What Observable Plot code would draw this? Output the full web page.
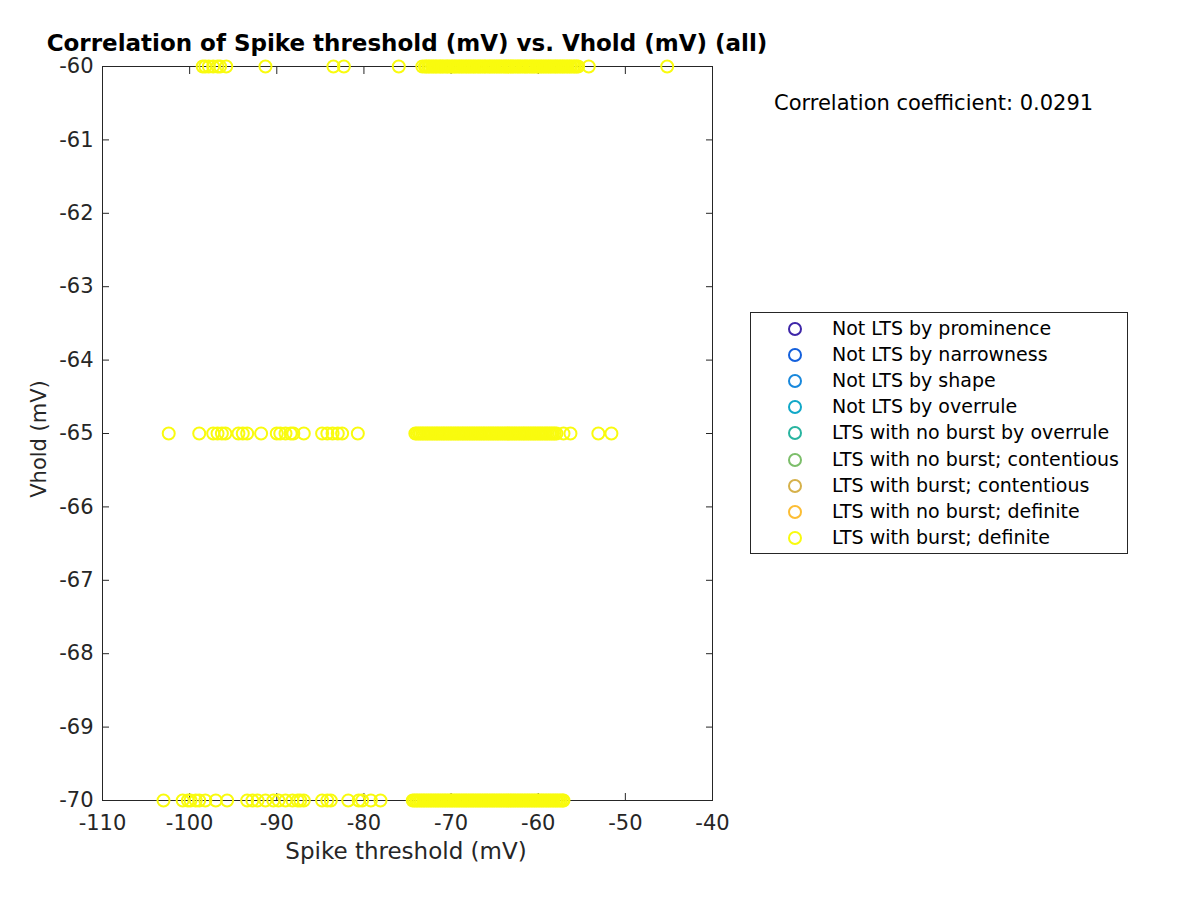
<!DOCTYPE html>
<html>
<head>
<meta charset="utf-8">
<script src="https://cdn.jsdelivr.net/npm/d3@7"></script>
<script src="https://cdn.jsdelivr.net/npm/@observablehq/plot@0.6"></script>
<style>
  html, body { margin: 0; padding: 0; background: #fff; }
  #wrap { position: relative; width: 1200px; height: 900px; font-family: "DejaVu Sans", sans-serif; color: #262626; }
  #wrap svg { position: absolute; left: 0; top: 0; }
  .ov { position: absolute; white-space: nowrap; }
  #title { left: 407px; top: 30px; transform: translateX(-50%); font-weight: bold; font-size: 23px; line-height: 26px; color: #000; }
  #xlab { left: 406px; top: 838px; transform: translateX(-50%); font-size: 23px; }
  #ylab { left: 39px; top: 439px; transform: translate(-50%, -50%) rotate(-90deg); font-size: 21px; }
  #corr { left: 774px; top: 91px; font-size: 21px; color: #000; }
  #legend { left: 750px; top: 312px; width: 378px; height: 242px; border: 1px solid #262626; box-sizing: border-box; background: #fff; }
  .li { position: absolute; left: 0; height: 26px; line-height: 26px; font-size: 19px; color: #000; }
  .li .mk { position: absolute; left: 37px; top: 7px; width: 10px; height: 10px; border-radius: 50%; border: 2px solid; box-sizing: content-box; }
  .li .tx { position: absolute; left: 81px; top: 0; }
</style>
</head>
<body>
<div id="wrap">
  <div id="title" class="ov">Correlation of Spike threshold (mV) vs. Vhold (mV) (all)</div>
  <div id="xlab" class="ov">Spike threshold (mV)</div>
  <div id="ylab" class="ov">Vhold (mV)</div>
  <div id="corr" class="ov">Correlation coefficient: 0.0291</div>
  <div id="legend" class="ov"></div>
</div>
<script>
// ---- data ----
const xTicks = [-110, -100, -90, -80, -70, -60, -50, -40];
const yTicks = [-70, -69, -68, -67, -66, -65, -64, -63, -62, -61, -60];

const categories = [
  "Not LTS by prominence",
  "Not LTS by narrowness",
  "Not LTS by shape",
  "Not LTS by overrule",
  "LTS with no burst by overrule",
  "LTS with no burst; contentious",
  "LTS with burst; contentious",
  "LTS with no burst; definite",
  "LTS with burst; definite"
];
const categoryColors = ["#3e26a8", "#1460dc", "#1888dc", "#10a8c8", "#28b4a0", "#7cbe6a", "#d6b14a", "#fcbd34", "#f9fb0e"];

// spike thresholds (mV) at Vhold = -60 mV
const thrAtMinus60 = [
  -98.5, -98.2, -97.8, -97.3, -96.8, -96.5, -95.8, -91.3, -83.5, -82.3, -76.0, -73.3,
  -73.0, -72.83, -72.61, -72.44, -72.2, -72.02, -71.79, -71.63, -71.38, -71.2, -71.01, -70.82,
  -70.58, -70.41, -70.22, -69.98, -69.81, -69.6, -69.43, -69.19, -69.02, -68.8, -68.62, -68.39,
  -68.21, -68.0, -67.82, -67.61, -67.4, -67.23, -66.99, -66.8, -66.62, -66.41, -66.19, -66.03,
  -65.78, -65.6, -65.42, -65.2, -65.01, -64.79, -64.61, -64.4, -64.22, -63.98, -63.8, -63.63,
  -63.41, -63.19, -63.0, -62.82, -62.6, -62.39, -62.21, -62.02, -61.8, -61.58, -61.41, -61.22,
  -60.99, -60.81, -60.6, -60.43, -60.2, -60.01, -59.79, -59.62, -59.4, -59.21, -59.0, -58.8,
  -58.61, -58.42, -58.19, -58.0, -57.82, -57.6, -57.41, -57.2, -57.03, -56.8, -56.61, -56.4,
  -56.22, -55.98, -55.8, -55.6, -55.42, -54.2, -45.2
];
// spike thresholds (mV) at Vhold = -65 mV
const thrAtMinus65 = [
  -102.4, -98.9, -97.3, -96.8, -96.3, -95.9, -94.4, -93.9, -93.4, -91.8, -90.0, -89.6,
  -89.0, -88.4, -88.1, -86.9, -84.8, -84.2, -83.6, -83.0, -82.5, -80.7,
  -74.1, -73.92, -73.7, -73.51, -73.3, -73.12, -72.9, -72.71, -72.52, -72.3, -72.11, -71.9,
  -71.7, -71.52, -71.31, -71.1, -70.9, -70.72, -70.5, -70.31, -70.1, -69.92, -69.7, -69.51,
  -69.3, -69.12, -68.9, -68.7, -68.52, -68.3, -68.11, -67.9, -67.71, -67.5, -67.32, -67.1,
  -66.91, -66.7, -66.52, -66.3, -66.12, -65.9, -65.7, -65.51, -65.3, -65.12, -64.9, -64.7,
  -64.52, -64.3, -64.11, -63.9, -63.71, -63.5, -63.32, -63.1, -62.91, -62.7, -62.52, -62.3,
  -62.11, -61.9, -61.7, -61.52, -61.3, -61.11, -60.9, -60.71, -60.5, -60.32, -60.1, -59.91,
  -59.7, -59.52, -59.3, -59.1, -58.92, -58.7, -58.51, -58.3, -58.11, -57.9, -57.1, -56.3,
  -53.1, -51.6
];
// spike thresholds (mV) at Vhold = -70 mV
const thrAtMinus70 = [
  -103.0, -100.8, -100.2, -99.9, -99.3, -98.9, -98.2, -97.0, -95.7, -93.4, -92.8, -92.2,
  -91.3, -90.4, -89.8, -89.0, -88.2, -87.6, -87.3, -86.9, -84.8, -84.2, -83.8, -81.8,
  -80.6, -80.2, -79.2, -78.1,
  -74.4, -74.21, -74.0, -73.82, -73.6, -73.41, -73.2, -73.02, -72.8, -72.61, -72.4, -72.22,
  -72.0, -71.81, -71.6, -71.42, -71.2, -71.01, -70.8, -70.62, -70.4, -70.21, -70.0, -69.82,
  -69.6, -69.41, -69.2, -69.02, -68.8, -68.61, -68.4, -68.22, -68.0, -67.81, -67.6, -67.42,
  -67.2, -67.01, -66.8, -66.62, -66.4, -66.21, -66.0, -65.82, -65.6, -65.41, -65.2, -65.02,
  -64.8, -64.61, -64.4, -64.22, -64.0, -63.81, -63.6, -63.42, -63.2, -63.01, -62.8, -62.62,
  -62.4, -62.21, -62.0, -61.82, -61.6, -61.41, -61.2, -61.02, -60.8, -60.61, -60.4, -60.22,
  -60.0, -59.81, -59.6, -59.42, -59.2, -59.01, -58.8, -58.62, -58.4, -58.21, -58.0, -57.82,
  -57.6, -57.41, -57.2, -57.1
];
const vholds = [-60, -65, -70];
const thresholdsByVhold = [thrAtMinus60, thrAtMinus65, thrAtMinus70];

// ---- build table ----
const points = [];
vholds.forEach((v, i) => {
  thresholdsByVhold[i].forEach(t => points.push({threshold: t, vhold: v, category: categories[8]}));
});

const axisColor = "#262626";
const fmt = d => String(d);

const chart = Plot.plot({
  width: 1200,
  height: 900,
  marginLeft: 102,
  marginRight: 488,
  marginTop: 66,
  marginBottom: 100,
  style: {fontFamily: "DejaVu Sans, sans-serif", fontSize: "21px", color: axisColor, background: "transparent"},
  x: {domain: [-110, -40], ticks: xTicks},
  y: {domain: [-70, -60], ticks: yTicks},
  color: {domain: categories, range: categoryColors},
  marks: [
    Plot.frame({stroke: axisColor, strokeWidth: 1}),
    Plot.axisX(xTicks, {anchor: "bottom", tickSize: -7, tickPadding: 22, tickFormat: fmt, label: null, stroke: axisColor, fill: axisColor, fontSize: 21}),
    Plot.axisX(xTicks, {anchor: "top", tickSize: -7, tickFormat: () => "", label: null, stroke: axisColor}),
    Plot.axisY(yTicks, {anchor: "left", tickSize: -7, tickPadding: 16, tickFormat: fmt, label: null, stroke: axisColor, fill: axisColor, fontSize: 21}),
    Plot.axisY(yTicks, {anchor: "right", tickSize: -7, tickFormat: () => "", label: null, stroke: axisColor}),
    Plot.dot(points, {x: "threshold", y: "vhold", stroke: "category", r: 6, strokeWidth: 2, symbol: "circle", fill: "none", clip: false})
  ]
});
document.getElementById("wrap").prepend(chart);

// ---- legend ----
const leg = document.getElementById("legend");
categories.forEach((c, i) => {
  const row = document.createElement("div");
  row.className = "li";
  row.style.top = (2 + i * 26.1) + "px";
  row.style.width = "100%";
  const mk = document.createElement("span");
  mk.className = "mk";
  mk.style.borderColor = categoryColors[i];
  const tx = document.createElement("span");
  tx.className = "tx";
  tx.textContent = c;
  row.appendChild(mk);
  row.appendChild(tx);
  leg.appendChild(row);
});
</script>
</body>
</html>
